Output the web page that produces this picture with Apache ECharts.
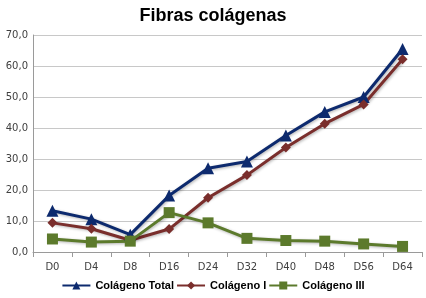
<!DOCTYPE html>
<html>
<head>
<meta charset="utf-8">
<script src="https://cdn.jsdelivr.net/npm/echarts@6/dist/echarts.min.js"></script>
<style>
html,body{margin:0;padding:0;background:#fff;}
#chart{width:426px;height:298px;}
</style>
</head>
<body>
<div id="chart"></div>
<script>
var days = ['D0','D4','D8','D16','D24','D32','D40','D48','D56','D64'];
var colTotal = [13.3, 10.6, 5.6, 18.2, 27.0, 29.2, 37.6, 45.2, 50.0, 65.5];
var colI = [9.4, 7.5, 3.8, 7.4, 17.5, 24.8, 33.7, 41.4, 47.6, 62.2];
var colIII = [4.2, 3.2, 3.5, 12.7, 9.4, 4.4, 3.7, 3.5, 2.6, 1.8];

var myChart = echarts.init(document.getElementById('chart'));

function serie(name, data, color, symbol, size){
  return {
    name: name,
    type: 'line',
    data: data,
    symbol: symbol,
    symbolSize: size,
    showAllSymbol: true,
    lineStyle: {width: 3, color: color, shadowColor: 'rgba(0,0,0,0.3)', shadowBlur: 3, shadowOffsetX: 1, shadowOffsetY: 1},
    itemStyle: {color: color},
    emphasis: {disabled: true}
  };
}

var option = {
  animation: false,
  title: {
    text: 'Fibras colágenas',
    left: 'center',
    top: 2,
    textStyle: {fontFamily: 'Liberation Sans', fontSize: 18, fontWeight: 'bold', color: '#000'}
  },
  legend: {
    bottom: 2,
    left: 'center',
    itemWidth: 28,
    itemHeight: 10,
    itemGap: 2,
    textStyle: {fontFamily: 'Liberation Sans', fontSize: 11, fontWeight: 'bold', color: '#000'},
    data: ['Colágeno Total', 'Colágeno I', 'Colágeno III']
  },
  grid: {left: 33, right: 4, top: 35, bottom: 46},
  xAxis: {
    type: 'category',
    data: days,
    axisLine: {lineStyle: {color: '#9a9a9a'}},
    axisTick: {show: true, length: 5, lineStyle: {color: '#9a9a9a'}},
    axisLabel: {fontFamily: 'DejaVu Sans', fontSize: 10, color: '#404040', margin: 10}
  },
  yAxis: {
    type: 'value',
    min: 0,
    max: 70,
    interval: 10,
    axisLine: {show: true, lineStyle: {color: '#9a9a9a'}},
    axisTick: {show: false},
    splitLine: {lineStyle: {color: '#c8c8c8'}},
    axisLabel: {
      fontFamily: 'DejaVu Sans', fontSize: 10, color: '#404040', margin: 5,
      formatter: function(v){ return v.toFixed(1).replace('.', ','); }
    }
  },
  series: [
    serie('Colágeno Total', colTotal, '#0d2a6e', 'triangle', 12),
    serie('Colágeno I', colI, '#7a2e2c', 'diamond', 10),
    serie('Colágeno III', colIII, '#5c7a2c', 'rect', 11)
  ]
};
myChart.setOption(option);
</script>
</body>
</html>
